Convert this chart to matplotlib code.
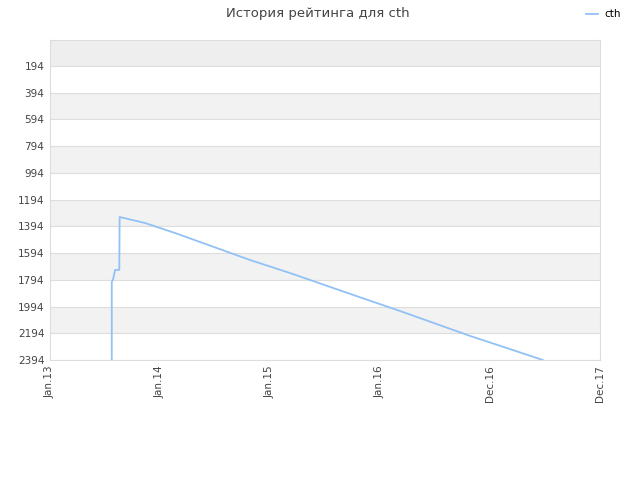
import matplotlib
matplotlib.use("Agg")
import matplotlib.pyplot as plt
import pandas as pd

plt.rcParams["font.family"] = ["DejaVu Sans"]

line_color = "#92c1f6"
grid_color = "#dddddd"
band_color = "#f2f2f2"
top_band_color = "#eeeeee"
text_color = "#444444"

dates = ["2013-07-25", "2013-07-25", "2013-07-29", "2013-08-05", "2013-08-19",
         "2013-08-20", "2013-11-12", "2014-02-20", "2014-10-27", "2015-03-08",
         "2015-10-27", "2016-03-07", "2016-10-26", "2017-03-07", "2017-06-24"]
rating = [2394, 1808, 1795, 1720, 1720,
          1324, 1369, 1444, 1646, 1743,
          1925, 2027, 2214, 2312, 2394]

tick_dates = ["2013-01-01", "2014-01-01", "2015-01-01", "2016-01-01", "2016-12-31", "2017-12-31"]
tick_labels = ["Jan.13", "Jan.14", "Jan.15", "Jan.16", "Dec.16", "Dec.17"]
y_ticks = [194, 394, 594, 794, 994, 1194, 1394, 1594, 1794, 1994, 2194, 2394]

x = pd.to_datetime(dates)
xt = pd.to_datetime(tick_dates)

fig = plt.figure(figsize=(6.4, 4.8), dpi=100)
ax = fig.add_axes([50 / 640, 120 / 480, 550 / 640, 320 / 480])

y_top = 0
ax.set_ylim(2394, y_top)
ax.set_xlim(xt[0], xt[-1])

# alternating bands
ax.axhspan(y_top, 194, color=top_band_color, zorder=0, lw=0)
for i in range(1, len(y_ticks) - 1, 2):
    ax.axhspan(y_ticks[i], y_ticks[i + 1], color=band_color, zorder=0, lw=0)
for t in y_ticks:
    ax.axhline(t, color=grid_color, lw=0.8, zorder=1)

ax.plot(x, rating, color=line_color, lw=1.3, zorder=3, label="cth")

ax.set_yticks(y_ticks)
ax.set_yticklabels([str(t) for t in y_ticks])
ax.set_xticks(xt)
ax.set_xticklabels(tick_labels, rotation=90)
ax.tick_params(axis="both", length=0, labelsize=7.5, colors=text_color, pad=4)

for s in ["top", "right"]:
    ax.spines[s].set_visible(False)
for s in ["left", "bottom"]:
    ax.spines[s].set_color(grid_color)
    ax.spines[s].set_linewidth(0.8)
ax.plot([1, 1], [0, 1], transform=ax.transAxes, color=grid_color, lw=0.8, clip_on=False)
ax.plot([0, 1], [1, 1], transform=ax.transAxes, color=grid_color, lw=0.8, clip_on=False)

fig.text(0.497, 0.972, "История рейтинга для cth", ha="center", va="center",
         fontsize=9.5, color=text_color)
fig.legend(loc="upper right", bbox_to_anchor=(0.985, 1.0), frameon=False,
           fontsize=7.5, handlelength=1.2, handletextpad=0.6)

fig.savefig("out.png", dpi=100)
